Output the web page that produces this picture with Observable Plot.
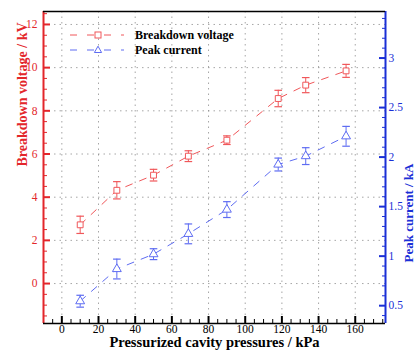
<!DOCTYPE html>
<html><head><meta charset="utf-8">
<script src="https://cdn.jsdelivr.net/npm/d3@7"></script>
<script src="https://cdn.jsdelivr.net/npm/@observablehq/plot@0.6"></script>
<style>
body{margin:0;background:#fff;}
#wrap{position:relative;width:416px;height:354px;overflow:hidden;}
#legend{position:absolute;left:0;top:0;pointer-events:none;}
</style></head><body><div id="wrap"></div>
<script>
// ---- data ----
const pressures = [10, 30, 50, 69, 90, 118, 133, 155];
const voltage = [2.72, 4.32, 5.02, 5.9, 6.64, 8.57, 9.19, 9.85];
const voltageErr = [0.4, 0.4, 0.27, 0.25, 0.2, 0.38, 0.35, 0.3];
const current = [0.545, 0.87, 1.02, 1.225, 1.47, 1.925, 2.01, 2.21];
const currentErr = [0.06, 0.1, 0.055, 0.1, 0.08, 0.065, 0.085, 0.1];
const seriesNames = ["Breakdown voltage", "Peak current"];
const xTicks = [0, 20, 40, 60, 80, 100, 120, 140, 160];
const voltTicks = [0, 2, 4, 6, 8, 10, 12];
const currTicks = [0.5, 1, 1.5, 2, 2.5, 3];
const xLabel = "Pressurized cavity pressures / kPa";
const yLeftLabel = "Breakdown voltage / kV";
const yRightLabel = "Peak current / kA";

// ---- scales ----
const xDomain = [-10, 176.5];
const L = [-1.85, 12.6], R = [0.32, 3.47];
const toL = v => L[0] + (v - R[0]) * (L[1] - L[0]) / (R[1] - R[0]);
const fromL = y => R[0] + (y - L[0]) * (R[1] - R[0]) / (L[1] - L[0]);

const red = "#e3262b", redData = "#f0575a";
const blue = "#1a2fd6", blueData = "#5e6cf2";
const gridStyle = {stroke: "#888", strokeOpacity: 0.75, strokeDasharray: "1.5,4"};

const vData = pressures.map((p, i) => ({x: p, y: voltage[i], lo: voltage[i] - voltageErr[i], hi: voltage[i] + voltageErr[i]}));
const cData = pressures.map((p, i) => ({x: p, y: toL(current[i]), lo: toL(current[i] - currentErr[i]), hi: toL(current[i] + currentErr[i])}));

const voltMinor = d3.range(-3, 26).map(k => k / 2).filter(v => v % 2 !== 0 && v > L[0] && v < L[1]);
const currMinor = d3.range(4, 35).filter(k => k % 5 !== 0).map(k => toL(k / 10));
const xMinor = d3.range(-5, 176, 5).filter(v => v % 20 !== 0);

const cap = {draw(ctx, size) { const r = Math.sqrt(size / Math.PI); ctx.moveTo(-r, 0); ctx.lineTo(r, 0); }};
const font = '"Liberation Serif", "Times New Roman", serif';

function series(data, color, symbol) {
  return [
    Plot.line(data, {x: "x", y: "y", stroke: color, strokeWidth: 1, strokeDasharray: "7,8"}),
    Plot.ruleX(data, {x: "x", y1: "lo", y2: "hi", stroke: color, strokeWidth: 1}),
    Plot.dot(data, {x: "x", y: "lo", symbol: cap, r: 3.8, stroke: color, strokeWidth: 1.2}),
    Plot.dot(data, {x: "x", y: "hi", symbol: cap, r: 3.8, stroke: color, strokeWidth: 1.2}),
    Plot.dot(data, {x: "x", y: "y", symbol, r: 3.3, stroke: color, fill: "white", strokeWidth: 1})
  ];
}

const chart = Plot.plot({
  width: 416, height: 354,
  marginLeft: 43, marginRight: 31, marginTop: 11, marginBottom: 31,
  style: {fontFamily: font, fontSize: "11px", background: "white", overflow: "visible"},
  x: {domain: xDomain},
  y: {domain: L},
  marks: [
    Plot.gridX(xTicks, gridStyle),
    Plot.gridY(voltTicks, gridStyle),
    ...series(vData, redData, "square"),
    ...series(cData, blueData, "triangle"),
    Plot.axisX(xTicks, {tickSize: -7, strokeWidth: 2, tickPadding: 8.5, label: null, color: "black", fontSize: 11.5}),
    Plot.axisX(xMinor, {tickSize: -4, tickFormat: () => "", label: null, color: "black"}),
    Plot.axisY(voltTicks, {anchor: "left", tickSize: -7, strokeWidth: 2, tickPadding: 13, label: null, color: red, fontSize: 11.5}),
    Plot.axisY(voltMinor, {anchor: "left", tickSize: -4, tickFormat: () => "", label: null, color: red}),
    Plot.axisY(currTicks.map(toL), {anchor: "right", tickSize: -7, strokeWidth: 2, tickPadding: 10, label: null, color: blue, fontSize: 11.5,
      tickFormat: d => String(Math.round(fromL(d) * 10) / 10)}),
    Plot.axisY(currMinor, {anchor: "right", tickSize: -4, tickFormat: () => "", label: null, color: blue}),
    Plot.ruleX([xDomain[0]], {stroke: red, strokeWidth: 2}),
    Plot.ruleX([xDomain[1]], {stroke: blue, strokeWidth: 2}),
    Plot.ruleY([L[0]], {stroke: "black", strokeWidth: 1.5}),
    Plot.ruleY([L[1]], {stroke: "black", strokeWidth: 1.5}),
    Plot.text([xLabel], {frameAnchor: "bottom", dy: 23.5, fontWeight: "bold", fontSize: 14.5, fill: "black"}),
    Plot.text([yLeftLabel], {frameAnchor: "left", rotate: -90, dx: -21, dy: -1, fontWeight: "bold", fontSize: 14, fill: red}),
    Plot.text([yRightLabel], {frameAnchor: "right", rotate: -90, dx: 23.5, dy: -4, fontWeight: "bold", fontSize: 13, fill: blue})
  ]
});
const wrap = document.getElementById("wrap");
wrap.appendChild(chart);

// legend overlay
const ns = "http://www.w3.org/2000/svg";
const leg = document.createElementNS(ns, "svg");
leg.setAttribute("id", "legend"); leg.setAttribute("width", 416); leg.setAttribute("height", 80);
const entries = [{color: redData, sym: "square"}, {color: blueData, sym: "triangle"}];
entries.forEach((e, i) => {
  const y = 35 + i * 15;
  const g = document.createElementNS(ns, "g");
  g.innerHTML =
    `<line x1="70" x2="124" y1="${y}" y2="${y}" stroke="${e.color}" stroke-width="1" stroke-dasharray="7,10"/>` +
    (e.sym === "square"
      ? `<rect x="95" y="${y - 3}" width="6" height="6" fill="white" stroke="${e.color}"/>`
      : `<path d="M98,${y - 3.8}L101.6,${y + 2.5}L94.4,${y + 2.5}Z" fill="white" stroke="${e.color}"/>`) +
    `<text x="135" y="${y}" dy="0.35em" font-family='${font}' font-weight="bold" font-size="12" fill="black">${seriesNames[i]}</text>`;
  leg.appendChild(g);
});
wrap.appendChild(leg);
</script>
</body></html>
